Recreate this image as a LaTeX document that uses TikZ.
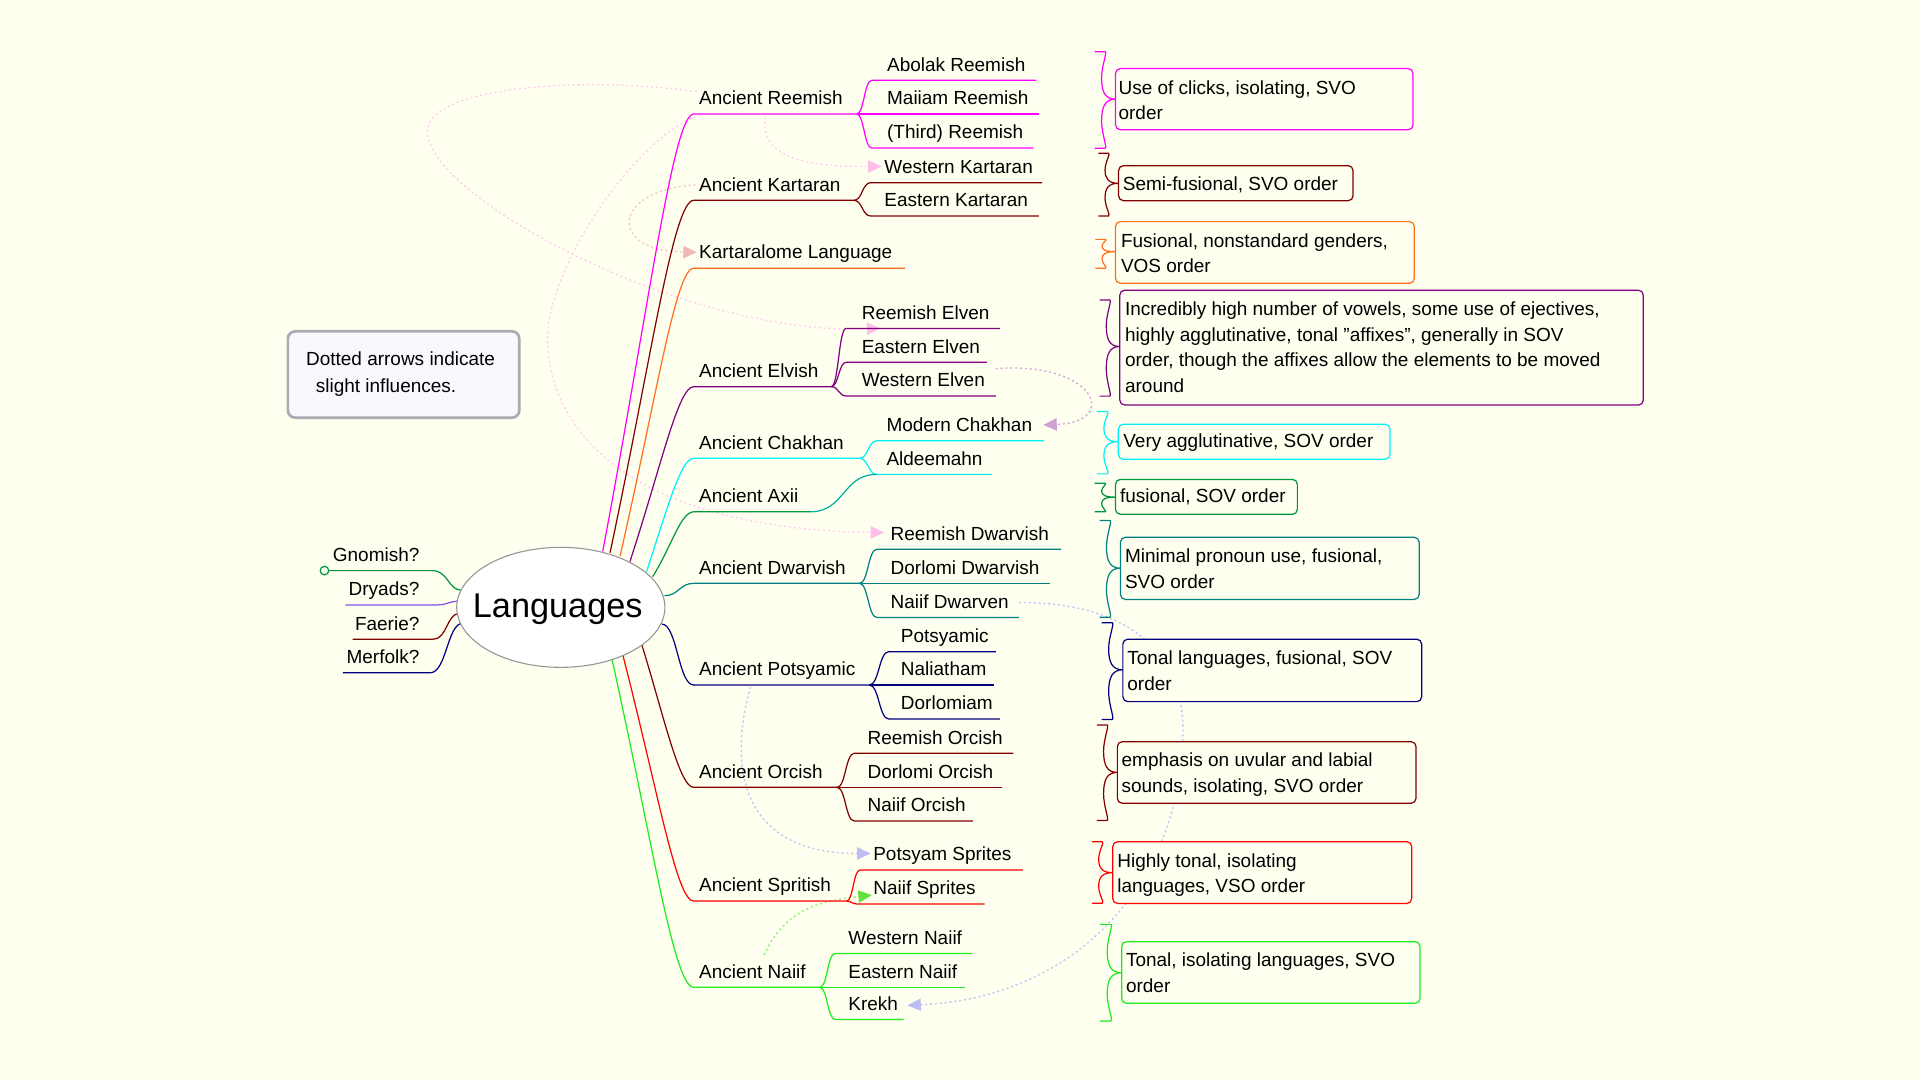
\documentclass[tikz,border=0pt]{standalone}
\usepackage{fontspec}
\setmainfont{Liberation Sans}
\usetikzlibrary{arrows.meta,shapes.geometric}
\definecolor{bg}{RGB}{255,255,240}
\definecolor{cMag}{RGB}{255,0,255}
\definecolor{cMar}{RGB}{128,0,0}
\definecolor{cOra}{RGB}{255,110,30}
\definecolor{cPur}{RGB}{128,0,128}
\definecolor{cCya}{RGB}{0,240,250}
\definecolor{cGrn}{RGB}{0,150,60}
\definecolor{cTea}{RGB}{0,128,128}
\definecolor{cNav}{RGB}{0,0,128}
\definecolor{cRed}{RGB}{255,0,0}
\definecolor{cLim}{RGB}{30,235,30}
\definecolor{cVio}{RGB}{130,80,230}
\definecolor{cAxT}{RGB}{0,175,160}
\definecolor{ellGray}{RGB}{150,150,150}
\definecolor{noteGray}{RGB}{170,170,178}
\definecolor{noteFill}{RGB}{248,248,255}
\definecolor{iPink}{RGB}{255,208,238}
\definecolor{iPinkA}{RGB}{255,190,232}
\definecolor{iSalm}{RGB}{245,200,195}
\definecolor{iSalmA}{RGB}{240,185,185}
\definecolor{iOrch}{RGB}{215,168,215}
\definecolor{iOrchA}{RGB}{210,160,210}
\definecolor{iLav}{RGB}{198,198,245}
\definecolor{iLavA}{RGB}{190,190,245}
\definecolor{iGrn}{RGB}{150,240,125}
\definecolor{iGrnA}{RGB}{100,225,60}

\newcommand{\mmbranch}[9]{%
  \coordinate (#1-s) at (566.5,#7);
  \coordinate (#1-e) at (#8,#7);
  \draw[#2, lnk] (#3,#4) .. controls #5 and #6 .. (#1-s) -- (#1-e);
  \node[txt] (#1) at (571,{#7-7.5}) {#9};
}
\newcommand{\mmkid}[9]{%
  \coordinate (#1-s) at (#5,#6);
  \coordinate (#1-e) at (#7,#6);
  \draw[#2, lnk] (#3,#4) .. controls ({(#3+#5)/2},#4) and ({(#3+#5)/2},#6) .. (#1-s) -- (#1-e);
  \node[txt] (#1) at (#8,{#6-7.5}) {#9};
}
\newcommand{\mmbrace}[6]{%
  \pgfmathsetmacro{\brW}{#3-#2}%
  \pgfmathsetmacro{\brA}{#5-#4}%
  \pgfmathsetmacro{\brB}{#6-#5}%
  \draw[#1, brl] (#2,#4) -- ({#2+0.5*\brW},#4)
    .. controls ({#2+0.62*\brW},#4) and ({#2+0.33*\brW},{#4+0.3*\brA}) .. ({#2+0.33*\brW},{#4+0.55*\brA})
    .. controls ({#2+0.33*\brW},{#4+0.85*\brA}) and ({#2+0.5*\brW},#5) .. (#3,#5)
    .. controls ({#2+0.5*\brW},#5) and ({#2+0.33*\brW},{#5+0.15*\brB}) .. ({#2+0.33*\brW},{#5+0.45*\brB})
    .. controls ({#2+0.33*\brW},{#5+0.7*\brB}) and ({#2+0.62*\brW},#6) .. ({#2+0.5*\brW},#6) -- (#2,#6);
}
\newcommand{\mmbox}[6]{%
  \node[infobox, draw=#2, minimum width={#5-#3}, minimum height={#6-#4}] (#1) at (#3,#4) {};
}

\begin{document}
\begin{tikzpicture}[x=1pt,y=-1pt,
  txt/.style={font=\fontsize{15.5pt}{18pt}\selectfont, inner sep=0pt, outer sep=0pt, anchor=base west, text=black},
  ltxt/.style={txt, anchor=base east},
  lnk/.style={line width=1pt},
  brl/.style={line width=1pt},
  infobox/.style={draw, rounded corners=4pt, fill=bg, line width=1pt, inner sep=0pt, outer sep=0pt, anchor=north west},
  infl/.style={dash pattern=on 1.8pt off 2.2pt, line width=1.1pt},
]
\useasboundingbox (0,0) rectangle (1568,882);
\fill[bg] (0,0) rectangle (1568,882);

% ---------- influence (dotted) arrows ----------
\coordinate (iA0) at (569,75);  \coordinate (iA1) at (349,107); \coordinate (iA2) at (719,268);
\draw[infl, iPink, -{Triangle[length=11pt,width=10pt,color=iPinkA]}]
  (iA0) .. controls (480,62) and (350,70) .. (iA1) .. controls (348,160) and (560,275) .. (iA2);
\coordinate (iB0) at (572,94); \coordinate (iB1) at (447,280); \coordinate (iB2) at (722,435);
\draw[infl, iPink, -{Triangle[length=11pt,width=10pt,color=iPinkA]}]
  (iB0) .. controls (520,110) and (445,220) .. (iB1) .. controls (452,370) and (540,432) .. (iB2);
\coordinate (iC0) at (625,95); \coordinate (iC1) at (720,136);
\draw[infl, iPink, -{Triangle[length=11pt,width=10pt,color=iPinkA]}]
  (iC0) .. controls (620,130) and (660,136) .. (iC1);
\coordinate (iD0) at (568,151); \coordinate (iD1) at (569,206);
\draw[infl, iSalm, -{Triangle[length=11pt,width=10pt,color=iSalmA]}]
  (iD0) .. controls (500,155) and (495,205) .. (iD1);
\coordinate (iE0) at (813,301); \coordinate (iE1) at (852,347);
\draw[infl, iOrch, -{Triangle[length=11pt,width=10pt,color=iOrchA]}]
  (iE0) .. controls (895,295) and (915,345) .. (iE1);
\coordinate (iF0) at (613,561); \coordinate (iF1) at (711,697);
\draw[infl, iLav, -{Triangle[length=11pt,width=10pt,color=iLavA]}]
  (iF0) .. controls (596,620) and (600,697) .. (iF1);
\coordinate (iG0) at (624,780); \coordinate (iG1) at (712,731);
\draw[infl, iGrn, -{Triangle[length=11pt,width=10pt,color=iGrnA]}]
  (iG0) .. controls (640,745) and (665,736) .. (iG1);
\coordinate (iH0) at (832,492); \coordinate (iH1) at (966,600); \coordinate (iH2) at (741,821);
\draw[infl, iLav, -{Triangle[length=11pt,width=10pt,color=iLavA]}]
  (iH0) .. controls (930,492) and (968,540) .. (iH1) .. controls (964,720) and (880,815) .. (iH2);

% ---------- main branches ----------
\mmbranch{R}{cMag}{492.2}{450.5}{(530,250)}{(550,93.1)}{93.1}{699.5}{Ancient Reemish}
\mmbranch{K}{cMar}{498.2}{451.4}{(532.4,290.2)}{(550.1,163.6)}{163.6}{697.4}{Ancient Kartaran}
\mmbranch{KL}{cOra}{506.4}{454}{(536.5,322.4)}{(552.1,219)}{219}{739.2}{Kartaralome Language}
\mmbranch{E}{cPur}{514.5}{458.5}{(540.5,378.6)}{(554,315.8)}{315.8}{678.8}{Ancient Elvish}
\mmbranch{C}{cCya}{528}{466.9}{(545,415)}{(556,374.3)}{374.3}{702}{Ancient Chakhan}
\mmbranch{X}{cGrn}{533}{471}{(549,445)}{(556,418)}{418}{661.6}{Ancient Axii}
\mmbranch{D}{cTea}{542.7}{486.5}{(554,486.5)}{(555,476.4)}{476.4}{702}{Ancient Dwarvish}
\mmbranch{P}{cNav}{540.4}{509.6}{(553,509.6)}{(554,559.4)}{559.4}{710}{Ancient Potsyamic}
\mmbranch{O}{cMar}{524}{526}{(543,588)}{(555,643)}{643}{683.6}{Ancient Orcish}
\mmbranch{S}{cRed}{508.5}{534.4}{(537.5,647.2)}{(552.6,735.9)}{735.9}{691.3}{Ancient Spritish}
\mmbranch{N}{cLim}{499.6}{537.6}{(533,688)}{(550.4,806.3)}{806.3}{669.5}{Ancient Naiif}

% ---------- children ----------
\mmkid{R1}{cMag}{699.5}{93.1}{712}{65.6}{846.3}{724.5}{Abolak Reemish}
\mmkid{R2}{cMag}{699.5}{93.1}{699.5}{93.1}{848.5}{724.5}{Maiiam Reemish}
\mmkid{R3}{cMag}{699.5}{93.1}{712}{120.9}{844}{724.5}{(Third) Reemish}
\mmkid{K1}{cMar}{697.4}{163.6}{711}{149.2}{851}{722.3}{Western Kartaran}
\mmkid{K2}{cMar}{697.4}{163.6}{711}{176.4}{848.5}{722.3}{Eastern Kartaran}
\mmkid{E1}{cPur}{678.8}{315.8}{691}{268.2}{816.5}{703.8}{Reemish Elven}
\mmkid{E2}{cPur}{678.8}{315.8}{691}{295.9}{806}{703.8}{Eastern Elven}
\mmkid{E3}{cPur}{678.8}{315.8}{691}{323.4}{813.5}{703.8}{Western Elven}
\mmkid{C1}{cCya}{702}{374.3}{716}{360}{852.5}{724}{Modern Chakhan}
\mmkid{C2}{cCya}{702}{374.3}{716}{387.4}{810}{724}{Aldeemahn}
\draw[cAxT, lnk] (X-e) .. controls (690,418) and (688,387.4) .. (C2-s);
\mmkid{D1}{cTea}{702}{476.4}{716}{448.6}{866.5}{727.4}{Reemish Dwarvish}
\mmkid{D2}{cTea}{702}{476.4}{702}{476.4}{857.2}{727.4}{Dorlomi Dwarvish}
\mmkid{D3}{cTea}{702}{476.4}{716}{504.2}{832.2}{727.4}{Naiif Dwarven}
\mmkid{P1}{cNav}{710}{559.4}{725.8}{532.2}{813.3}{735.8}{Potsyamic}
\mmkid{P2}{cNav}{710}{559.4}{710}{559.4}{811.8}{735.8}{Naliatham}
\mmkid{P3}{cNav}{710}{559.4}{725.8}{587.2}{816.5}{735.8}{Dorlomiam}
\mmkid{O1}{cMar}{683.6}{643}{697.6}{615.2}{827.5}{708.6}{Reemish Orcish}
\mmkid{O2}{cMar}{683.6}{643}{683.6}{643}{818.1}{708.6}{Dorlomi Orcish}
\mmkid{O3}{cMar}{683.6}{643}{697.6}{670.5}{794.6}{708.6}{Naiif Orcish}
\mmkid{S1}{cRed}{691.3}{735.9}{702.4}{710.5}{835.3}{713.2}{Potsyam Sprites}
\mmkid{S2}{cRed}{691.3}{735.9}{700}{738.3}{804}{713.2}{Naiif Sprites}
\mmkid{N1}{cLim}{669.5}{806.3}{682}{778.6}{794}{692.9}{Western Naiif}
\mmkid{N2}{cLim}{669.5}{806.3}{669.5}{806.3}{788.4}{692.9}{Eastern Naiif}
\mmkid{N3}{cLim}{669.5}{806.3}{682}{832.5}{738}{692.9}{Krekh}

% ---------- left branches ----------
\coordinate (g-e) at (353,466); \coordinate (g-r) at (377,482);
\draw[cGrn, lnk] (265,466) -- (g-e) .. controls (366,466) and (366,482) .. (g-r);
\node[circle, draw=cGrn, fill=bg, line width=1pt, minimum size=7pt, inner sep=0pt] (gdot) at (265,466) {};
\node[ltxt] (gn) at (342.5,458.5) {Gnomish?};
\coordinate (dr-e) at (357,494); \coordinate (dr-r) at (375,491);
\draw[cVio, lnk] (282,494) -- (dr-e) .. controls (366,494) and (366,491) .. (dr-r);
\node[ltxt] (dr) at (342.5,486.5) {Dryads?};
\coordinate (fa-e) at (354,522); \coordinate (fa-r) at (375,501);
\draw[cMar, lnk] (288,522) -- (fa-e) .. controls (365,522) and (365,501) .. (fa-r);
\node[ltxt] (fa) at (342.5,514.5) {Faerie?};
\coordinate (me-e) at (351,549.5); \coordinate (me-r) at (378,509);
\draw[cNav, lnk] (280,549.5) -- (me-e) .. controls (365,549.5) and (365,509) .. (me-r);
\node[ltxt] (me) at (342.5,542) {Merfolk?};

% ---------- root ----------
\node[ellipse, draw=ellGray, fill=white, line width=0.9pt, minimum width=170pt, minimum height=98pt,
  inner sep=0pt] (root) at (458,496) {};
\node[font=\fontsize{28pt}{32pt}\selectfont, inner sep=0pt, anchor=base] (rootlabel) at (455.5,504.5) {Languages};

% ---------- note ----------
\node[draw=noteGray, fill=noteFill, line width=2.2pt, rounded corners=6pt, minimum width=189pt,
  minimum height=70.5pt, inner sep=0pt, anchor=north west] (note) at (234,269.5) {};
\node[txt] (note1) at (250,298.6) {Dotted arrows indicate};
\node[txt] (note2) at (258,320.7) {slight influences.};

% ---------- braces and description boxes ----------
\mmbrace{cMag}{894}{911}{42.2}{81}{121}
\mmbox{b1}{cMag}{911}{56}{1154}{106}
\node[txt] (b1a) at (913.5,77) {Use of clicks, isolating, SVO};
\node[txt] (b1b) at (913.5,98) {order};

\mmbrace{cMar}{897}{913.5}{125.2}{149.7}{176.4}
\mmbox{b2}{cMar}{913.5}{135.3}{1105}{163.9}
\node[txt] (b2a) at (917,155.2) {Semi-fusional, SVO order};

\mmbrace{cOra}{894.5}{911}{195.5}{205.5}{219}
\mmbox{b3}{cOra}{911}{181}{1155}{231.4}
\node[txt] (b3a) at (915.5,202) {Fusional, nonstandard genders,};
\node[txt] (b3b) at (915.5,222.7) {VOS order};

\mmbrace{cPur}{898}{914.5}{245}{283}{323.5}
\mmbox{b4}{cPur}{914.5}{237}{1342}{330.8}
\node[txt] (b4a) at (918.8,257.3) {Incredibly high number of vowels, some use of ejectives,};
\node[txt] (b4b) at (918.8,278.5) {highly agglutinative, tonal "affixes", generally in SOV};
\node[txt] (b4c) at (918.8,299.5) {order, though the affixes allow the elements to be moved};
\node[txt] (b4d) at (918.8,320.7) {around};

\mmbrace{cCya}{895.7}{913.3}{336}{360.7}{387}
\mmbox{b5}{cCya}{913.3}{346.5}{1135.2}{375.1}
\node[txt] (b5a) at (917.4,365.6) {Very agglutinative, SOV order};

\mmbrace{cGrn}{894}{911}{394.7}{406}{418}
\mmbox{b6}{cGrn}{911}{391.5}{1059.5}{420}
\node[txt] (b6a) at (914.7,410.5) {fusional, SOV order};

\mmbrace{cTea}{898}{915}{425}{464}{504}
\mmbox{b7}{cTea}{915}{438.8}{1159}{489.5}
\node[txt] (b7a) at (918.8,459.5) {Minimal pronoun use, fusional,};
\node[txt] (b7b) at (918.8,480.8) {SVO order};

\mmbrace{cNav}{899.7}{917}{508.5}{547}{587.5}
\mmbox{b8}{cNav}{917}{522}{1161}{573}
\node[txt] (b8a) at (920.7,542.6) {Tonal languages, fusional, SOV};
\node[txt] (b8b) at (920.7,563.5) {order};

\mmbrace{cMar}{895.7}{912.5}{592}{630.8}{670}
\mmbox{b9}{cMar}{912.5}{605.7}{1156.4}{656}
\node[txt] (b9a) at (916,626.1) {emphasis on uvular and labial};
\node[txt] (b9b) at (916,647.4) {sounds, isolating, SVO order};

\mmbrace{cRed}{891.6}{908.7}{687.4}{712.7}{737.7}
\mmbox{b10}{cRed}{908.7}{687.4}{1152.9}{737.8}
\node[txt] (b10a) at (912.5,708.1) {Highly tonal, isolating};
\node[txt] (b10b) at (912.5,729) {languages, VSO order};

\mmbrace{cLim}{898.4}{916}{754.9}{794.4}{833.8}
\mmbox{b11}{cLim}{916}{769}{1159.7}{819.4}
\node[txt] (b11a) at (919.6,789.5) {Tonal, isolating languages, SVO};
\node[txt] (b11b) at (919.6,810.7) {order};
\end{tikzpicture}
\end{document}
